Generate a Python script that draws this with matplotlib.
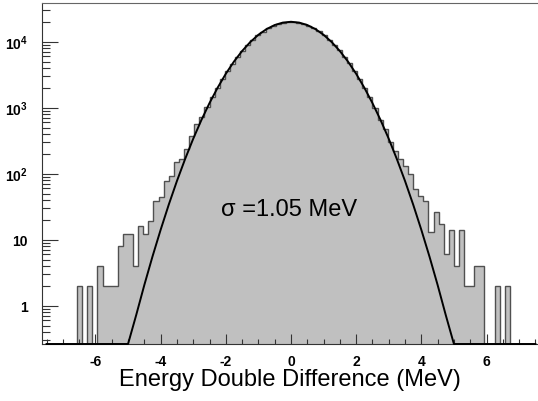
import numpy as np
import matplotlib
matplotlib.use("Agg")
import matplotlib.pyplot as plt
from matplotlib.ticker import LogLocator, MultipleLocator, NullFormatter, FixedLocator

plt.rcParams['font.family'] = ['Liberation Sans', 'DejaVu Sans']
plt.rcParams['mathtext.fontset'] = 'custom'
plt.rcParams['mathtext.rm'] = 'Liberation Sans'
plt.rcParams['mathtext.bf'] = 'Liberation Sans:bold'

# histogram: bin width 0.15625 MeV, first bin starts at -6.5625
bin_width = 0.15625
first_edge = -6.5625
counts = [
    2, 0, 2, 0, 4, 2, 2, 2, 8, 12, 12, 4, 16, 12, 19, 39,          # -6.56 .. -4.22
    44, 78, 93, 149, 167, 237, 376, 566, 715, 1014, 1438,          # -4.06 .. -2.50
    1990, 2690, 3560, 4610, 5880, 7330, 8940, 10650, 12480,
    14200, 15900, 17300, 18500, 19300, 19800,                      # .. 0
    19900, 19400, 18600, 17400, 15900, 14300, 12500, 10700, 9000,
    7400, 5950, 4680, 3600, 2720, 2010, 1460,                      # 0 .. 2.50
    990, 640, 480, 300, 223, 167, 132, 99, 59, 46, 39,             # 2.50 .. 4.22
    13, 26, 17, 6, 14, 4, 14, 2, 2, 4, 4, 0, 0, 2, 0, 2,           # 4.22 .. 6.72
]

# gaussian fit curve
curve_x = [-7.5, -5.25, -5.0, -4.75, -4.5, -4.25, -4.0, -3.75, -3.5, -3.25, -3.0,
           -2.75, -2.5, -2.25, -2.0, -1.75, -1.5, -1.25, -1.0, -0.75, -0.5, -0.25,
           0.0, 0.25, 0.5, 0.75, 1.0, 1.25, 1.5, 1.75, 2.0, 2.25, 2.5, 2.75, 3.0,
           3.25, 3.5, 3.75, 4.0, 4.25, 4.5, 4.75, 5.0, 5.25, 7.5]
curve_y = [0.0, 0.075, 0.238, 0.72, 2.06, 5.55, 14.1, 34.0, 77.4, 166, 338,
           648, 1174, 2010, 3260, 4990, 7210, 9850, 12710, 15490, 17860, 19440,
           20000, 19440, 17860, 15490, 12710, 9850, 7210, 4990, 3260, 2010, 1174,
           648, 338, 166, 77.4, 34.0, 14.1, 5.55, 2.06, 0.72, 0.238, 0.075, 0.0]

xmin, xmax = -7.64, 7.58
ymin, ymax = 0.263, 3.85e4

counts = np.array(counts, dtype=float)
edges = first_edge + bin_width * np.arange(len(counts) + 1)
floor = 0.1
shown = np.where(counts > 0, counts, floor)

fig = plt.figure(figsize=(5.38, 4.02), dpi=100)
ax = fig.add_axes([42 / 538, 57 / 402, 496 / 538, 341 / 402])

ax.stairs(shown, edges, baseline=floor, fill=True, color='#c0c0c0', zorder=1)
ax.stairs(shown, edges, baseline=floor, color='#505050', lw=1.0, zorder=2)

cy = np.maximum(np.array(curve_y), ymin)
ax.plot(curve_x, cy, color='black', lw=1.4, zorder=3, clip_on=False)

ax.set_yscale('log')
ax.set_xlim(xmin, xmax)
ax.set_ylim(ymin, ymax)

ax.xaxis.set_major_locator(FixedLocator([-6, -4, -2, 0, 2, 4, 6]))
ax.xaxis.set_minor_locator(MultipleLocator(0.5))
ax.set_xticklabels(['-6', '-4', '-2', '0', '2', '4', '6'], fontweight='bold', fontsize=10)

ax.yaxis.set_major_locator(FixedLocator([1, 10, 100, 1e3, 1e4]))
ax.set_yticklabels(['1', '10', r'$\mathbf{10^{2}}$', r'$\mathbf{10^{3}}$', r'$\mathbf{10^{4}}$'],
                   fontweight='bold', fontsize=10)
ax.yaxis.set_minor_locator(LogLocator(base=10, subs=np.arange(2, 10), numticks=30))
ax.yaxis.set_minor_formatter(NullFormatter())

ax.tick_params(which='both', direction='in', top=False, right=False, colors='#333333')
ax.tick_params(axis='x', which='major', length=7.2, width=0.8, pad=7)
ax.tick_params(axis='x', which='minor', length=3.6, width=0.8)
ax.tick_params(axis='y', which='major', length=11.5, width=0.8, pad=10)
ax.tick_params(axis='y', which='minor', length=5.8, width=0.8)
ax.tick_params(labelcolor='black')

for side in ['left', 'bottom']:
    ax.spines[side].set_color('#333333')
ax.spines['top'].set_color('#666666')
ax.spines['right'].set_visible(False)

ax.set_xlabel('Energy Double Difference (MeV)', fontsize=17, labelpad=0)

ax.text(-2.16, 23.7, '\u03c3 =1.05 MeV', fontsize=17, ha='left', va='baseline')

fig.savefig('out.png', dpi=100)
